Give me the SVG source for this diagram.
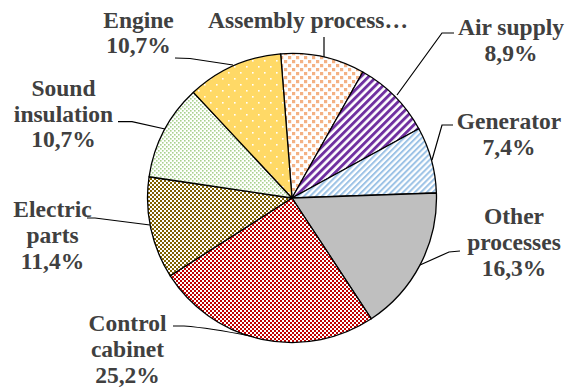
<svg xmlns="http://www.w3.org/2000/svg" width="567" height="389" viewBox="0 0 567 389">
<style>
.lbl{font-family:"Liberation Serif","Times New Roman",serif;font-weight:bold;font-size:23.5px;fill:#404040;text-anchor:middle}
.sl{stroke:#000;stroke-width:1.3;stroke-linejoin:round}
.ld{fill:none;stroke:#000;stroke-width:1.2}
</style>
<defs>
<pattern id="pAsm" width="8" height="8" patternUnits="userSpaceOnUse">
<rect width="8" height="8" fill="#fff"/>
<rect x="0" y="0" width="3.2" height="3.2" fill="#F4B183"/>
<rect x="4" y="4" width="3.2" height="3.2" fill="#F4B183"/>
</pattern>
<pattern id="pAir" width="5.5" height="5.5" patternUnits="userSpaceOnUse" patternTransform="rotate(45)">
<rect width="5.5" height="5.5" fill="#fff"/>
<rect x="0" y="0" width="2.9" height="5.5" fill="#7030A0"/>
</pattern>
<pattern id="pGen" width="4.2" height="4.2" patternUnits="userSpaceOnUse" patternTransform="rotate(45)">
<rect width="4.2" height="4.2" fill="#fff"/>
<rect x="0" y="0" width="2" height="4.2" fill="#9DC3E6"/>
</pattern>
<pattern id="pCtl" width="4" height="4" patternUnits="userSpaceOnUse">
<rect width="4" height="4" fill="#fff"/>
<rect x="0" y="0" width="2" height="2" fill="#C00000"/>
<rect x="2" y="2" width="2" height="2" fill="#C00000"/>
</pattern>
<pattern id="pEle" width="4" height="4" patternUnits="userSpaceOnUse">
<rect width="4" height="4" fill="#fff"/>
<rect x="0" y="0" width="2" height="2" fill="#7F6000"/>
<rect x="2" y="2" width="2" height="2" fill="#7F6000"/>
</pattern>
<pattern id="pSnd" width="4" height="4" patternUnits="userSpaceOnUse">
<rect width="4" height="4" fill="#fff"/>
<rect x="0" y="0" width="1.6" height="1.6" fill="#A9D18E"/>
<rect x="2" y="2" width="1.6" height="1.6" fill="#A9D18E"/>
</pattern>
<pattern id="pEng" width="12" height="12" patternUnits="userSpaceOnUse">
<rect width="12" height="12" fill="#FFD966"/>
<rect x="0" y="0" width="1.6" height="1.6" fill="#fff"/>
<rect x="6" y="6" width="1.6" height="1.6" fill="#fff"/>
</pattern>
</defs>
<rect width="567" height="389" fill="#fff"/>
<g id="pie">
<g id="slice-assembly"><path class="sl" fill="url(#pAsm)" d="M292,198 L280.66,53.94 A144.5,144.5 0 0 1 362.81,72.04 Z"/></g>
<g id="slice-air"><path class="sl" fill="url(#pAir)" d="M292,198 L362.81,72.04 A144.5,144.5 0 0 1 418.86,128.80 Z"/></g>
<g id="slice-generator"><path class="sl" fill="url(#pGen)" d="M292,198 L418.86,128.80 A144.5,144.5 0 0 1 436.41,193.01 Z"/></g>
<g id="slice-other"><path class="sl" fill="#BFBFBF" d="M292,198 L436.41,193.01 A144.5,144.5 0 0 1 371.33,318.77 Z"/></g>
<g id="slice-control"><path class="sl" fill="url(#pCtl)" d="M292,198 L371.33,318.77 A144.5,144.5 0 0 1 170.24,275.82 Z"/></g>
<g id="slice-electric"><path class="sl" fill="url(#pEle)" d="M292,198 L170.24,275.82 A144.5,144.5 0 0 1 149.07,176.74 Z"/></g>
<g id="slice-sound"><path class="sl" fill="url(#pSnd)" d="M292,198 L149.07,176.74 A144.5,144.5 0 0 1 193.43,92.34 Z"/></g>
<g id="slice-engine"><path class="sl" fill="url(#pEng)" d="M292,198 L193.43,92.34 A144.5,144.5 0 0 1 280.66,53.94 Z"/></g>
</g>
<g id="connectors">
<path class="ld" d="M175,58 L190,58.5 L233,65"/>
<path class="ld" d="M324,37 L324,57"/>
<path class="ld" d="M454,33 L442,33 L397,95"/>
<path class="ld" d="M453,125 L442,125 L432,160"/>
<path class="ld" d="M460,251 L449,252 L420,265"/>
<path class="ld" d="M173,326 L184,326 Q210,328 250,336"/>
<path class="ld" d="M87,218 L95,218 L150,225"/>
<path class="ld" d="M118,121.7 L132,121.7 L165,129"/>
</g>
<g id="label-engine"><text class="lbl"><tspan x="138.5" y="28">Engine</tspan><tspan x="138.5" y="53">10,7%</tspan></text></g>
<g id="label-assembly"><text class="lbl"><tspan x="308" y="28">Assembly process…</tspan></text></g>
<g id="label-air"><text class="lbl"><tspan x="511" y="35">Air supply</tspan><tspan x="511" y="61">8,9%</tspan></text></g>
<g id="label-generator"><text class="lbl"><tspan x="509" y="129">Generator</tspan><tspan x="509" y="155">7,4%</tspan></text></g>
<g id="label-other"><text class="lbl"><tspan x="514" y="224">Other</tspan><tspan x="514" y="250">processes</tspan><tspan x="514" y="276">16,3%</tspan></text></g>
<g id="label-control"><text class="lbl"><tspan x="127.5" y="331">Control</tspan><tspan x="127.5" y="357">cabinet</tspan><tspan x="127.5" y="383">25,2%</tspan></text></g>
<g id="label-electric"><text class="lbl"><tspan x="52.5" y="217">Electric</tspan><tspan x="52.5" y="243">parts</tspan><tspan x="52.5" y="269">11,4%</tspan></text></g>
<g id="label-sound"><text class="lbl"><tspan x="63.5" y="96">Sound</tspan><tspan x="63.5" y="122">insulation</tspan><tspan x="63.5" y="147">10,7%</tspan></text></g>
</svg>
